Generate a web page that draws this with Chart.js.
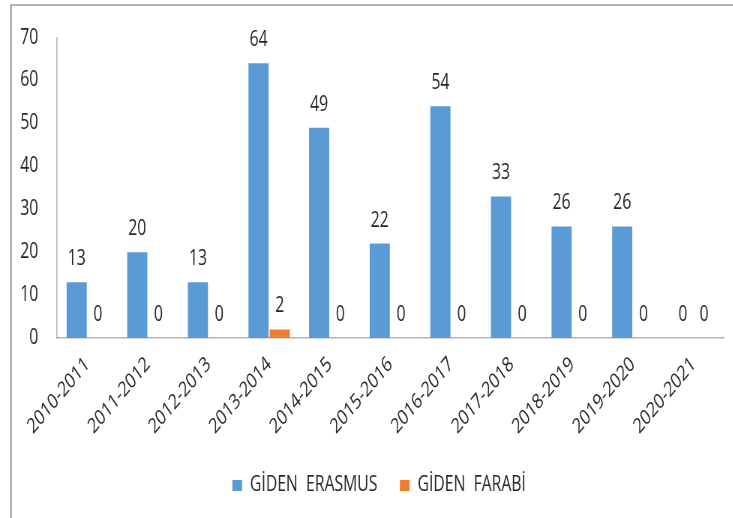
<!DOCTYPE html>
<html>
<head>
<meta charset="utf-8">
<script src="https://cdn.jsdelivr.net/npm/chart.js@4"></script>
<style>
  html, body { margin: 0; padding: 0; background: #fff; }
  #wrap { position: relative; width: 733px; height: 518px; overflow: hidden; }
  #frame {
    position: absolute; left: 10px; top: 4px; width: 740px; height: 530px;
    border-top: 2px solid #b4b4b4; border-left: 2px solid #b4b4b4;
  }
  /* the reference text is narrow, so draw wider and squeeze horizontally */
  canvas { position: absolute; left: 0; top: 0; transform: scaleX(0.75); transform-origin: 0 0; }
</style>
</head>
<body>
<div id="wrap">
  <div id="frame"></div>
  <canvas id="chart" width="977" height="518"></canvas>
</div>
<script>
const years = ["2010-2011", "2011-2012", "2012-2013", "2013-2014", "2014-2015",
  "2015-2016", "2016-2017", "2017-2018", "2018-2019", "2019-2020", "2020-2021"];
const erasmus = [13, 20, 13, 64, 49, 22, 54, 33, 26, 26, 0];
const farabi = [0, 0, 0, 2, 0, 0, 0, 0, 0, 0, 0];

const FONT = "'Open Sans', sans-serif";
const TEXT = "#262626";

// numbers over the bars
const barLabels = {
  id: "barLabels",
  afterDatasetsDraw(chart) {
    const ctx = chart.ctx;
    ctx.save();
    ctx.font = "21px " + FONT;
    ctx.fillStyle = TEXT;
    ctx.textAlign = "center";
    ctx.textBaseline = "middle";
    chart.data.datasets.forEach((ds, i) => {
      chart.getDatasetMeta(i).data.forEach((bar, j) => {
        ctx.fillText(ds.data[j], bar.x, bar.y - 23);
      });
    });
    ctx.restore();
  }
};

// legend in the original sits a bit right of centre
const legendShift = {
  id: "legendShift",
  afterLayout(chart) {
    chart.legend.left += 23;
    chart.legend.right += 23;
  }
};

new Chart(document.getElementById("chart"), {
  type: "bar",
  data: {
    labels: years,
    datasets: [
      { label: "GİDEN  ERASMUS", data: erasmus, backgroundColor: "#5B9BD5" },
      { label: "GİDEN  FARABİ", data: farabi, backgroundColor: "#ED7D31" }
    ]
  },
  options: {
    responsive: false,
    animation: false,
    layout: { padding: { top: 31, right: 12, left: 0, bottom: 12 } },
    datasets: { bar: { categoryPercentage: 0.7, barPercentage: 0.95 } },
    scales: {
      x: {
        grid: { display: false, drawTicks: false },
        border: { display: true, color: "#b4b4b4", width: 1.5 },
        ticks: {
          color: TEXT, font: { family: FONT, size: 21 },
          minRotation: 42, maxRotation: 42, padding: 14
        },
        afterFit(s) { s.height = 107; }
      },
      y: {
        min: 0, max: 70,
        grid: { display: false, drawTicks: false },
        border: { display: true, color: "#b4b4b4", width: 1.5 },
        ticks: { stepSize: 10, color: TEXT, font: { family: FONT, size: 21 }, padding: 25 },
        afterFit(s) { s.width = 76; }
      }
    },
    plugins: {
      legend: {
        position: "bottom",
        labels: {
          color: TEXT, font: { family: FONT, size: 21 },
          boxWidth: 13, boxHeight: 11, padding: 30
        }
      },
      tooltip: { enabled: false }
    }
  },
  plugins: [barLabels, legendShift]
});
</script>
</body>
</html>
